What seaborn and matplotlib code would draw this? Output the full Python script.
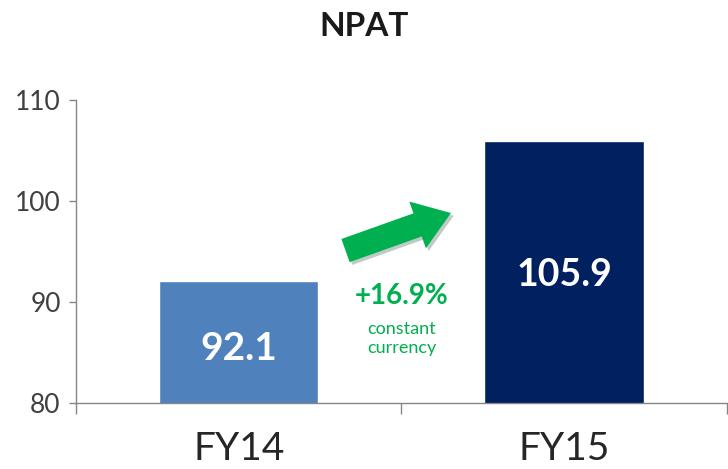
import matplotlib
matplotlib.use("Agg")
import matplotlib.pyplot as plt
import matplotlib.patheffects as pe
import seaborn as sns
import pandas as pd

years = ["FY14", "FY15"]
npat = [92.1, 105.9]
bar_colors = ["#4F81BD", "#002060"]
growth_label = "+16.9%"
growth_note = "constant\ncurrency"

sns.set_style("white")
plt.rcParams['font.family'] = ['Lato', 'DejaVu Sans']

fig = plt.figure(figsize=(7.28, 4.69), dpi=100)
ax = fig.add_axes([0.1044, 0.1407, 0.8942, 0.6461])

df = pd.DataFrame({"year": years, "npat": npat})
sns.barplot(data=df, x="year", y="npat", hue="year", palette=bar_colors,
            width=0.49, legend=False, ax=ax, saturation=1)

ax.set_ylim(80, 110)
ax.set_xlim(-0.5, 1.5)
ax.set_yticks([80, 90, 100, 110])
ax.tick_params(axis="y", labelsize=19, colors="#868686", labelcolor="#404040",
               length=5, width=1, direction="out", left=True, pad=6)

# category boundaries carry the tick marks, labels sit on the categories
ax.set_xticks([-0.5, 0.5, 1.5])
ax.set_xticklabels([])
ax.set_xticks([0, 1], minor=True)
ax.set_xticklabels(years, minor=True)
ax.tick_params(axis="x", which="major", length=8, width=1, colors="#868686",
               direction="out", bottom=True)
ax.tick_params(axis="x", which="minor", length=0, labelsize=28,
               labelcolor="#262626", pad=20)
ax.set_xlabel("")
ax.set_ylabel("")

for side in ["top", "right"]:
    ax.spines[side].set_visible(False)
for side in ["left", "bottom"]:
    ax.spines[side].set_color("#868686")
    ax.spines[side].set_linewidth(1)

# values inside bars
ax.text(0, 85.4, f"{npat[0]:.1f}", ha="center", va="center", color="white",
        fontsize=28, fontweight="bold")
ax.text(1, 92.7, f"{npat[1]:.1f}", ha="center", va="center", color="white",
        fontsize=27, fontweight="bold")

# growth arrow and annotation
green = "#00B050"
ax.annotate("", xy=(0.66, 98.9), xytext=(0.32, 95.0),
            arrowprops=dict(arrowstyle="simple,head_length=0.75,head_width=1.05,tail_width=0.52",
                            mutation_scale=34, color=green, lw=0,
                            path_effects=[pe.SimplePatchShadow(offset=(2, -2), alpha=0.25),
                                          pe.Normal()]))
ax.text(0.5, 90.6, growth_label, ha="center", va="center", color=green,
        fontsize=20, fontweight="bold")
ax.text(0.5, 86.4, growth_note, ha="center", va="center", color=green,
        fontsize=13, linespacing=1.2)

fig.suptitle("NPAT", x=0.5, y=0.975, fontsize=24, fontweight="bold", color="#1a1a1a")

fig.savefig("out.png", dpi=100)
